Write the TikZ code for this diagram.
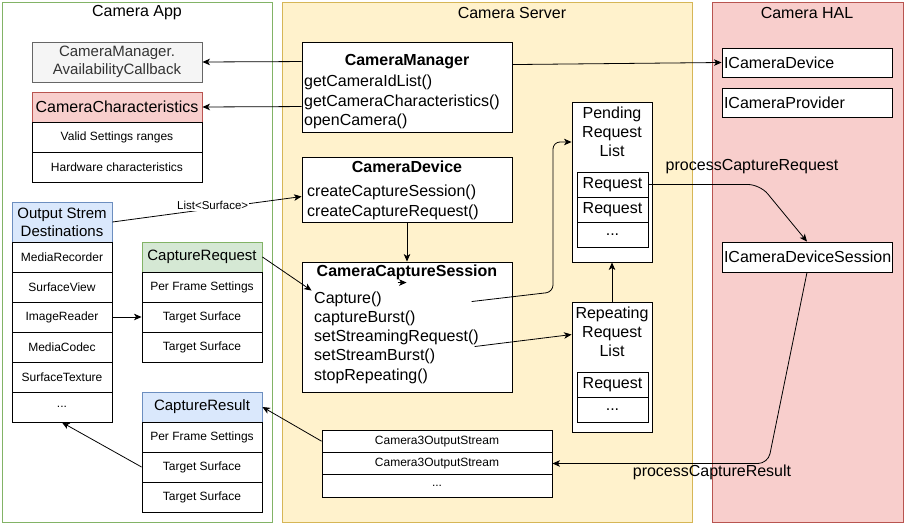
\documentclass[tikz,border=0pt]{standalone}
\usepackage{fontspec}
\setmainfont{Liberation Sans}
\usetikzlibrary{arrows.meta}
\definecolor{appg}{HTML}{82B366}
\definecolor{srvfill}{HTML}{FFF2CC}
\definecolor{srvdraw}{HTML}{D6B656}
\definecolor{halfill}{HTML}{F8CECC}
\definecolor{haldraw}{HTML}{B85450}
\definecolor{bluefill}{HTML}{DAE8FC}
\definecolor{bluedraw}{HTML}{6C8EBF}
\definecolor{greenfill}{HTML}{D5E8D4}
\definecolor{grayfill}{HTML}{F5F5F5}
\definecolor{graydraw}{HTML}{666666}
\definecolor{graytext}{HTML}{333333}
\begin{document}
\begin{tikzpicture}[x=1pt,y=-1pt,
  every node/.style={font=\fontsize{16}{18.5}\selectfont, inner sep=0pt},
  cont/.style={draw, line width=0.9pt},
  cell/.style={draw, fill=white, line width=0.9pt, align=center},
  small/.style={font=\fontsize{12}{14}\selectfont},
  hdr/.style={font=\fontsize{15}{18}\selectfont},
  meth/.style={align=left, font=\fontsize{16}{19.3}\selectfont},
  bold/.style={font=\fontsize{16}{18}\selectfont\bfseries},
  halbox/.style={draw, fill=white, line width=0.9pt, text width=166pt, inner xsep=2pt, align=left},
  arr/.style={draw, line width=0.8pt, -{Stealth[length=7.5pt,width=6.5pt,inset=2pt]}},
  lbl/.style={fill=white, font=\fontsize{11.5}{13}\selectfont, inner sep=1pt}]
\useasboundingbox (0,0) rectangle (905,526);
% containers
\node[cont, fill=white, draw=appg, minimum width=270pt, minimum height=520pt] (app) at (137,262) {};
\node[cont, fill=srvfill, draw=srvdraw, minimum width=410pt, minimum height=520pt] (srv) at (487,262) {};
\node[cont, fill=halfill, draw=haldraw, minimum width=191pt, minimum height=520pt] (hal) at (807.5,262) {};
\node (apptitle) at (137,13) {Camera App};
\node (srvtitle) at (512,13) {Camera Server};
\node (haltitle) at (807,13) {Camera HAL};
% Camera App
\node[cell, hdr, fill=grayfill, draw=graydraw, text=graytext, minimum width=170pt, minimum height=40pt] (acb) at (117,62) {CameraManager.\\AvailabilityCallback};
\node[cell, fill=halfill, draw=haldraw, minimum width=170pt, minimum height=30pt] (cc) at (117,107) {CameraCharacteristics};
\node[cell, small, minimum width=170pt, minimum height=30pt] (cc1) at (117,137) {Valid Settings ranges};
\node[cell, small, minimum width=170pt, minimum height=30pt] (cc2) at (117,167) {Hardware characteristics};
\node[cell, hdr, fill=bluefill, draw=bluedraw, minimum width=100pt, minimum height=40pt] (osd) at (62,222) {Output Strem\\Destinations};
\node[cell, small, minimum width=100pt, minimum height=30pt] (osd1) at (62,257) {MediaRecorder};
\node[cell, small, minimum width=100pt, minimum height=30pt] (osd2) at (62,287) {SurfaceView};
\node[cell, small, minimum width=100pt, minimum height=30pt] (osd3) at (62,317) {ImageReader};
\node[cell, small, minimum width=100pt, minimum height=30pt] (osd4) at (62,347) {MediaCodec};
\node[cell, small, minimum width=100pt, minimum height=30pt] (osd5) at (62,377) {SurfaceTexture};
\node[cell, small, minimum width=100pt, minimum height=30pt] (osd6) at (62,407) {...};
\node[cell, hdr, fill=greenfill, draw=appg, minimum width=120pt, minimum height=30pt, text depth=4pt] (creq) at (202,257) {CaptureRequest};
\node[cell, small, minimum width=120pt, minimum height=30pt] (creq1) at (202,287) {Per Frame Settings};
\node[cell, small, minimum width=120pt, minimum height=30pt] (creq2) at (202,317) {Target Surface};
\node[cell, small, minimum width=120pt, minimum height=30pt] (creq3) at (202,347) {Target Surface};
\node[cell, hdr, fill=bluefill, draw=bluedraw, minimum width=120pt, minimum height=30pt, text depth=4pt] (cres) at (202,407) {CaptureResult};
\node[cell, small, minimum width=120pt, minimum height=30pt] (cres1) at (202,437) {Per Frame Settings};
\node[cell, small, minimum width=120pt, minimum height=30pt] (cres2) at (202,467) {Target Surface};
\node[cell, small, minimum width=120pt, minimum height=30pt] (cres3) at (202,497) {Target Surface};
% Camera Server
\node[cell, minimum width=210pt, minimum height=90pt] (cm) at (407,87) {};
\node[bold] (cmt) at (407,62) {CameraManager};
\node[meth, anchor=west] (cmm) at (304,102) {getCameraIdList()\\getCameraCharacteristics()\\openCamera()};
\node[cell, minimum width=210pt, minimum height=65pt] (cd) at (407,189.5) {};
\node[bold] (cdt) at (407,167) {CameraDevice};
\node[meth, anchor=west] (cdm) at (307,202.5) {createCaptureSession()\\createCaptureRequest()};
\node[cell, minimum width=210pt, minimum height=130pt] (ccs) at (407,327) {};
\node[bold] (ccst) at (407,272) {CameraCaptureSession};
\node[meth, anchor=west] (ccsm) at (314,337.5) {Capture()\\captureBurst()\\setStreamingRequest()\\setStreamBurst()\\stopRepeating()};
\node[cell, minimum width=80pt, minimum height=160pt] (pend) at (612,182) {};
\node[align=center, font=\fontsize{16}{19}\selectfont] (pendt) at (612,132) {Pending\\Request\\List};
\node[cell, minimum width=71pt, minimum height=25pt] (pr1) at (612.5,184.5) {Request};
\node[cell, minimum width=71pt, minimum height=25pt] (pr2) at (612.5,209.5) {Request};
\node[cell, minimum width=71pt, minimum height=25pt] (pr3) at (612.5,234.5) {...};
\node[cell, minimum width=80pt, minimum height=130pt] (rep) at (612,367) {};
\node[align=center, font=\fontsize{16}{19}\selectfont] (rept) at (612,332) {Repeating\\Request\\List};
\node[cell, minimum width=71pt, minimum height=25pt] (rr1) at (612.5,384.5) {Request};
\node[cell, minimum width=71pt, minimum height=25pt] (rr2) at (612.5,409.5) {...};
\node[cell, small, minimum width=230pt, minimum height=22.4pt] (c3r1) at (437,441.2) {Camera3OutputStream};
\node[cell, small, minimum width=230pt, minimum height=22.4pt] (c3r2) at (437,463.5) {Camera3OutputStream};
\node[cell, small, minimum width=230pt, minimum height=22.4pt] (c3r3) at (437,485.8) {...};
% Camera HAL
\node[halbox, minimum height=29pt] (icd) at (807,62.5) {ICameraDevice};
\node[halbox, minimum height=29pt] (icp) at (807,102.5) {ICameraProvider};
\node[halbox, minimum height=30pt] (icds) at (807,257) {ICameraDeviceSession};
% connectors
\draw[arr] ([yshift=-20pt]cm.north west) -- (acb.east);
\draw[arr] ([yshift=-65pt]cm.north west) -- (cc.east);
\draw[arr] ([yshift=-23pt]cm.north east) -- (icd.west);
\draw[arr] (osd.east) -- node[lbl, pos=0.53, yshift=3pt] (lsurf) {List<Surface>} ([yshift=-40pt]cd.north west);
\draw[arr] (osd3.east) -- (creq2.west);
\coordinate (capin) at ([xshift=10pt,yshift=-29pt]ccs.north west);
\draw[arr] (creq.east) -- (capin);
\draw[arr] (cd.south) -- (ccs.north);
\coordinate (tinya) at ([xshift=96pt,yshift=-21pt]ccs.north west);
\draw[arr] (tinya) -- ++(9,0);
\coordinate (capout) at ([xshift=170pt,yshift=-40pt]ccs.north west);
\draw[arr, rounded corners=7pt] (capout) -- (553,292) -- (553,142) -- (pend.west |- 0,142);
\coordinate (strout) at ([xshift=173pt,yshift=-85pt]ccs.north west);
\draw[arr] (strout) -- ([yshift=-33pt]rep.north west);
\draw[arr] (rep.north) -- (pend.south);
\draw[arr, rounded corners=12pt] (pr1.east) -- (760,184.5) -- (icds.north);
\node (pcreq) at (752,167) {processCaptureRequest};
\draw[arr, rounded corners=10pt] (icds.south) -- (768,463.5) -- (c3r2.east);
\node (pcres) at (712,472) {processCaptureResult};
\draw[arr] (c3r1.west) -- (cres.east);
\draw[arr] (cres2.west) -- (osd6.south);
\end{tikzpicture}
\end{document}
